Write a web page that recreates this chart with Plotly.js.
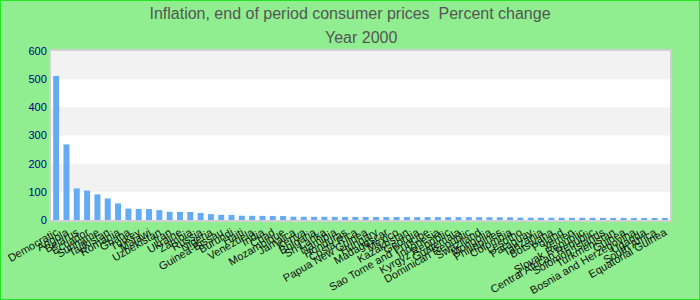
<!DOCTYPE html>
<html>
<head>
<meta charset="utf-8">
<script src="https://cdn.plot.ly/plotly-3.0.1.min.js"></script>
<style>
html,body{margin:0;padding:0;background:#90EE90;}
#wrap{position:relative;width:700px;height:300px;}
#chart{width:700px;height:300px;}
#frame{position:absolute;left:0;top:0;width:698px;height:298px;border:1px solid #22e622;pointer-events:none;}
</style>
</head>
<body>
<div id="wrap"><div id="chart"></div><div id="frame"></div></div>
<script>
const countries = [
 "Democratic","Angola","Belarus","Ecuador","Suriname","Tajikistan","Romania","Ghana","Turkey","Malawi",
 "Uzbekistan","Iran","Ukraine","Zambia","Russia","Nigeria","Guinea-Bissau","Burundi","Haiti","Venezuela",
 "India","Chad","Mozambique","Jamaica","Kenya","Bulgaria","Sri Lanka","Namibia","Honduras","Costa Rica",
 "Papua New Guinea","Hungary","Madagascar","Mexico","Kazakhstan","Georgia","Sao Tome and Principe","Indonesia","Kyrgyz Republic","Guatemala",
 "Dominican Republic","Swaziland","Mongolia","Philippines","Colombia","Lesotho","Paraguay","Tanzania","Botswana","Poland",
 "Yemen","Slovak Republic","Central African Republic","Solomon Islands","Turkmenistan","Guinea","Bosnia and Herzegovina","Uganda","South Africa","Equatorial Guinea"
];
const inflation = [
 511.2,268.4,112.0,104.5,91.0,76.5,59.0,40.5,39.0,38.8,
 35.0,29.2,28.9,28.6,25.0,21.0,18.4,18.0,15.1,14.8,
 14.6,14.5,14.3,11.8,11.6,11.4,11.3,11.2,11.0,10.9,
 10.8,10.7,10.6,10.5,10.4,10.3,10.2,10.2,10.1,10.0,
 10.0,9.9,9.8,9.7,9.6,8.4,8.2,8.1,8.0,7.9,
 7.8,7.8,7.7,7.6,7.5,7.4,7.3,7.2,7.1,7.0
];
const yTicks = [0,100,200,300,400,500,600];
const titleText = "Inflation, end of period consumer prices  Percent change";
const subtitleText = "Year 2000";

const bands = [];
for (let i = 0; i + 1 < yTicks.length; i++) {
  if (i % 2 === 1) {
    bands.push({type:'rect', xref:'paper', yref:'y', x0:0, x1:1, y0:yTicks[i], y1:yTicks[i+1],
      fillcolor:'#f2f2f2', line:{width:0}, layer:'below'});
  }
}
const FONT = 'Liberation Sans, Arial, sans-serif';

Plotly.newPlot('chart', [{
  type:'bar', x:countries, y:inflation,
  marker:{color:'#63abf5'}, hoverinfo:'x+y'
}], {
  width:700, height:300,
  paper_bgcolor:'#90EE90', plot_bgcolor:'#ffffff',
  margin:{l:51, r:30, t:51, b:80},
  bargap:0.42,
  title:{text:titleText, font:{family:FONT, size:16, color:'#555555'}, x:0.5, xanchor:'center', yref:'container', y:1-13/300, yanchor:'middle'},
  annotations:[{text:subtitleText, xref:'paper', yref:'paper', x:0.5, xanchor:'center', y:1+(51-37)/169, yanchor:'middle',
    showarrow:false, font:{family:FONT, size:16, color:'#555555'}}],
  xaxis:{type:'category', tickmode:'linear', dtick:1, tick0:0, tickangle:-30, tickfont:{family:FONT, size:11, color:'#111'},
         showline:true, linecolor:'#d0d0d0', linewidth:2, mirror:true, showgrid:false, ticks:'', automargin:false},
  yaxis:{range:[0,600], tickvals:yTicks, tickfont:{family:FONT, size:11, color:'#000080'},
         showline:true, linecolor:'#d0d0d0', linewidth:2, mirror:true, showgrid:false, zeroline:false, ticks:'', automargin:false},
  shapes:bands,
  showlegend:false
}, {displayModeBar:false, staticPlot:true});
</script>
</body>
</html>
